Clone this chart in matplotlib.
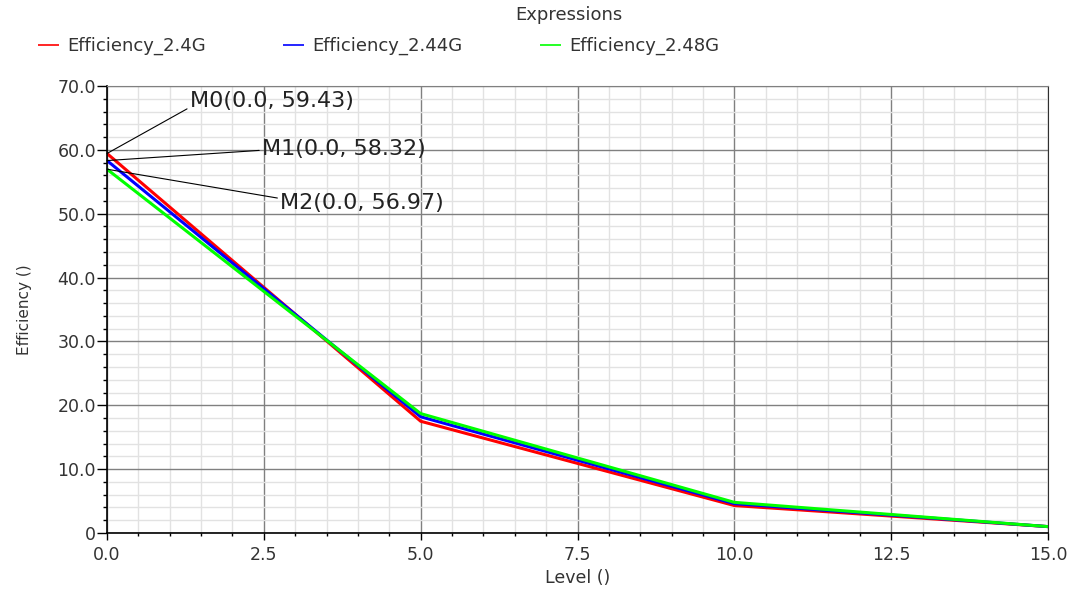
import matplotlib.pyplot as plt
from matplotlib.ticker import MultipleLocator, FuncFormatter

# data
level = [0.0, 5.0, 10.0, 15.0]
eff_24 = [59.43, 17.5, 4.3, 1.0]
eff_244 = [58.32, 18.2, 4.6, 1.0]
eff_248 = [56.97, 18.7, 4.8, 1.0]

series = [
    ('Efficiency_2.4G', eff_24, '#ff0000'),
    ('Efficiency_2.44G', eff_244, '#0000ff'),
    ('Efficiency_2.48G', eff_248, '#00ff00'),
]
markers = ['M0', 'M1', 'M2']
# label placement (data coords) and where the leader line meets the label
marker_text_pos = [(1.32, 67.6), (2.47, 60.1), (2.76, 51.6)]
marker_relpos = [(0, 0.2), (0, 0.45), (0, 0.75)]

fig = plt.figure(figsize=(10.83, 5.92), dpi=100)
ax = fig.add_axes([107 / 1083, 1 - 533 / 592, 941 / 1083, 447 / 592])

for name, vals, col in series:
    ax.plot(level, vals, color=col, lw=2.2, label=name, solid_capstyle='butt')

ax.set_xlim(0, 15)
ax.set_ylim(0, 70)
ax.xaxis.set_major_locator(MultipleLocator(2.5))
ax.xaxis.set_minor_locator(MultipleLocator(0.5))
ax.yaxis.set_major_locator(MultipleLocator(10))
ax.yaxis.set_minor_locator(MultipleLocator(2))
ax.xaxis.set_major_formatter(FuncFormatter(lambda v, p: '%.1f' % v))
ax.yaxis.set_major_formatter(FuncFormatter(lambda v, p: '0' if v == 0 else '%.1f' % v))

ax.grid(True, which='major', color='#808080', lw=1.0)
ax.grid(True, which='minor', color='#e2e2e2', lw=1.0)
ax.set_axisbelow(True)

ax.tick_params(which='both', direction='out', width=1, colors='black',
               labelsize=12.5, labelcolor='#333333')
ax.tick_params(axis='x', which='major', length=5, pad=4)
ax.tick_params(axis='x', which='minor', length=2.5)
ax.tick_params(axis='y', which='major', length=7, pad=1)
ax.tick_params(axis='y', which='minor', length=3)
ax.tick_params(axis='x', which='both', top=False)
ax.tick_params(axis='y', which='both', right=False)

for s in ['left', 'bottom']:
    ax.spines[s].set_color('black')
    ax.spines[s].set_linewidth(1.2)
ax.spines['top'].set_color('#808080')
ax.spines['right'].set_color('#303030')

ax.set_xlabel('Level ()', fontsize=12.5, color='#333333')
ax.xaxis.set_label_coords(0.5, -0.08)
ax.set_ylabel('Efficiency ()', fontsize=11, color='#333333')
ax.yaxis.set_label_coords(-0.08, 0.5)

for m, (name, vals, col), (tx, ty), rp in zip(markers, series, marker_text_pos, marker_relpos):
    ax.annotate('%s(%.1f, %.2f)' % (m, level[0], vals[0]),
                xy=(level[0], vals[0]), xytext=(tx, ty),
                fontsize=16, color='#222222', ha='left', va='center',
                arrowprops=dict(arrowstyle='-', color='black', lw=0.8,
                                shrinkA=0, shrinkB=0, relpos=rp),
                annotation_clip=False)

fig.text(0.525, 0.9755, 'Expressions', fontsize=13, color='#333333', ha='center', va='center')
fig.legend(loc='center left', bbox_to_anchor=(38 / 1083, 0.922), ncol=3, frameon=False,
           fontsize=13, handlelength=1.17, handletextpad=0.44, columnspacing=4.3,
           borderaxespad=0, borderpad=0, labelcolor='#333333')
for h in fig.legends[0].get_lines():
    h.set_linewidth(1.2)

fig.savefig('out.png', dpi=100)
